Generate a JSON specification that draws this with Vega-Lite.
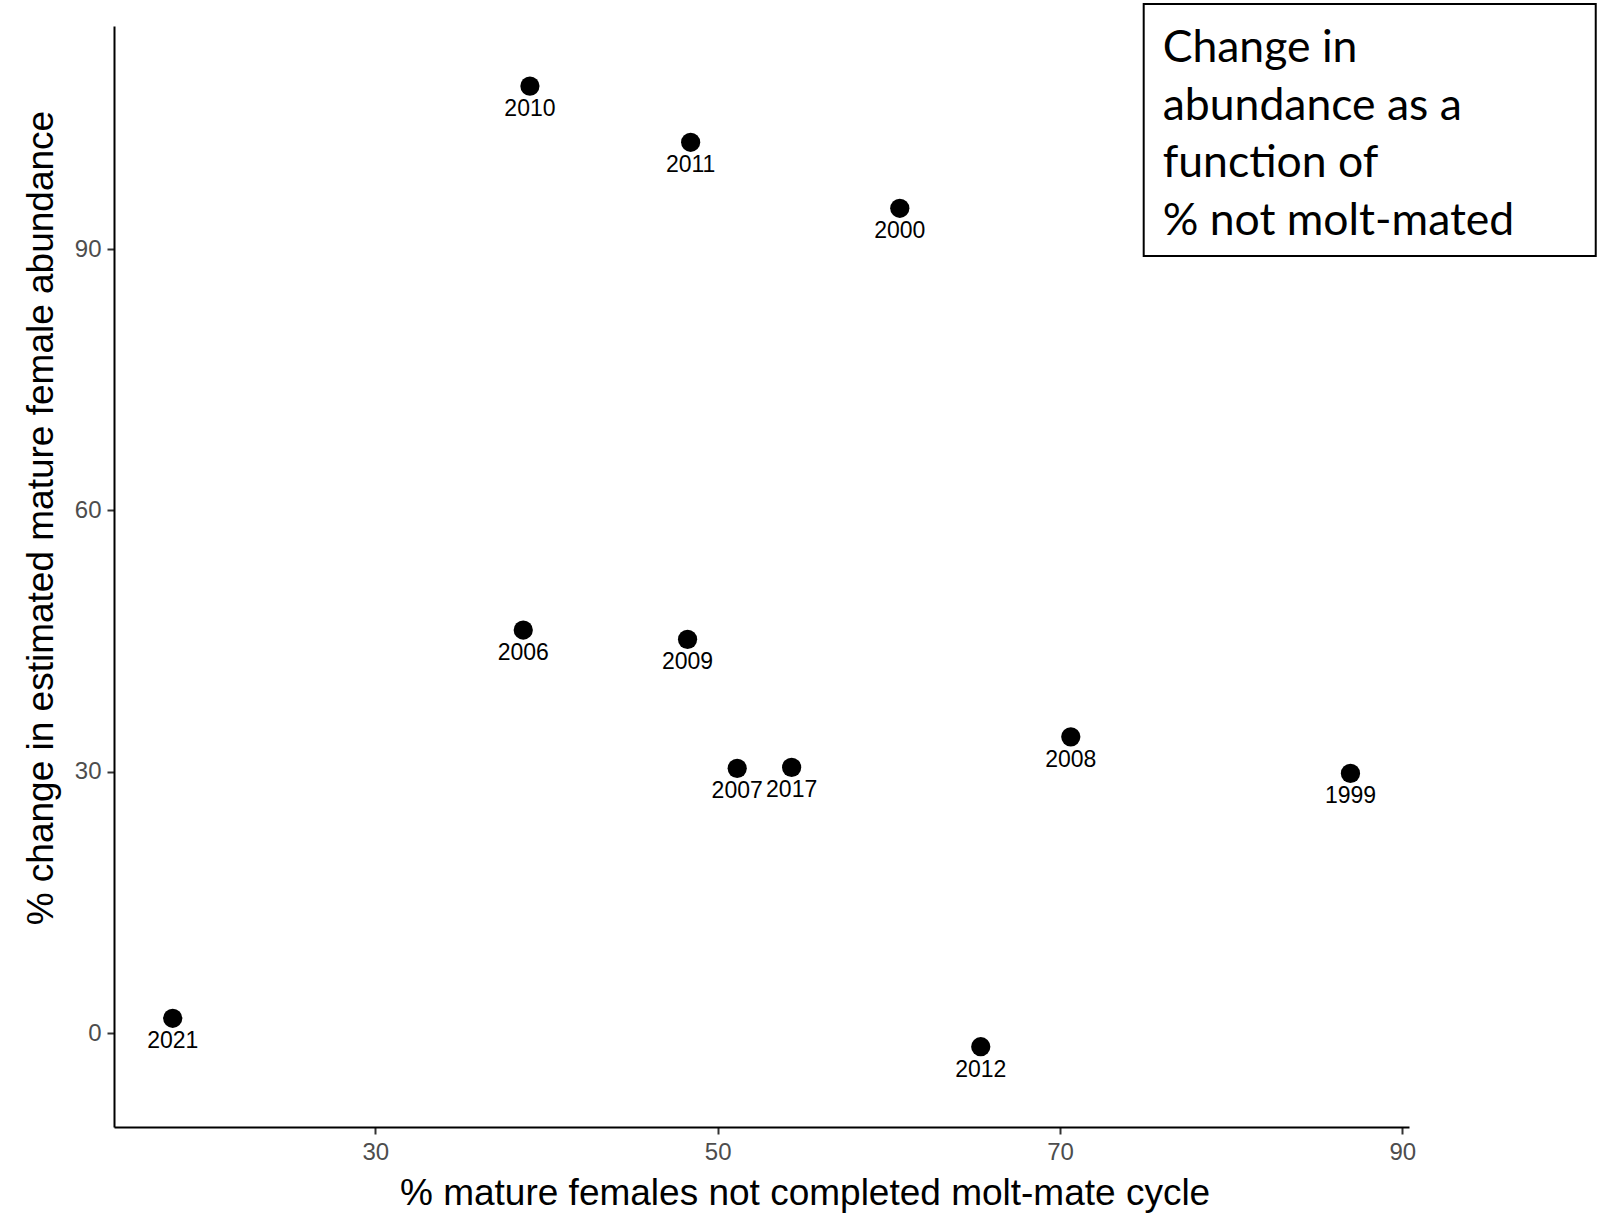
{
  "$schema": "https://vega.github.io/schema/vega-lite/v6.json",
  "width": 1295,
  "height": 1101,
  "autosize": "none",
  "padding": {"left": 114, "top": 26, "right": 198, "bottom": 88},
  "background": "white",
  "config": {
    "view": {"stroke": null},
    "axis": {
      "grid": false,
      "domainColor": "black",
      "domainWidth": 2,
      "tickColor": "#333333",
      "tickWidth": 2,
      "tickSize": 7,
      "labelFont": "Liberation Sans",
      "labelFontSize": 24,
      "labelColor": "#4D4D4D",
      "labelPadding": 6,
      "titleFont": "Liberation Sans",
      "titleFontSize": 37,
      "titleFontWeight": "normal",
      "titleColor": "black"
    }
  },
  "datasets": {
    "points": [
      {"year": "1999", "notmolt": 86.97, "change": 29.8},
      {"year": "2000", "notmolt": 60.64, "change": 94.67},
      {"year": "2006", "notmolt": 38.64, "change": 46.26},
      {"year": "2007", "notmolt": 51.14, "change": 30.38},
      {"year": "2008", "notmolt": 70.63, "change": 34.0},
      {"year": "2009", "notmolt": 48.24, "change": 45.19},
      {"year": "2010", "notmolt": 39.03, "change": 108.7},
      {"year": "2011", "notmolt": 48.42, "change": 102.25},
      {"year": "2012", "notmolt": 65.37, "change": -1.57},
      {"year": "2017", "notmolt": 54.32, "change": 30.49},
      {"year": "2021", "notmolt": 18.16, "change": 1.69}
    ],
    "box": [
      {"notmolt": 74.89, "notmolt2": 101.3, "change": 118.13, "change2": 89.2}
    ],
    "note": [
      {"notmolt": 76.0, "change": 111.47, "label": "Change in\nabundance as a\nfunction of\n% not molt-mated"}
    ]
  },
  "layer": [
    {
      "data": {"name": "points"},
      "mark": {"type": "circle", "size": 370, "color": "black", "opacity": 1},
      "encoding": {
        "x": {"field": "notmolt", "type": "quantitative",
              "scale": {"domain": [14.73, 90.39], "nice": false, "zero": false},
              "axis": {"values": [30, 50, 70, 90], "title": "% mature females not completed molt-mate cycle",
                       "titleX": 690.6, "titleY": 77, "titleAlign": "center", "titleBaseline": "alphabetic"}},
        "y": {"field": "change", "type": "quantitative",
              "scale": {"domain": [-10.79, 115.6], "nice": false, "zero": false},
              "axis": {"values": [0, 30, 60, 90], "title": "% change in estimated mature female abundance",
                       "titleAngle": -90, "titleX": -62, "titleY": 491.6, "titleAlign": "center", "titleBaseline": "alphabetic"}}
      }
    },
    {
      "data": {"name": "points"},
      "mark": {"type": "text", "dy": 30, "baseline": "alphabetic", "align": "center", "font": "Liberation Sans", "fontSize": 23, "color": "black"},
      "encoding": {
        "x": {"field": "notmolt", "type": "quantitative"},
        "y": {"field": "change", "type": "quantitative"},
        "text": {"field": "year", "type": "nominal"}
      }
    },
    {
      "data": {"name": "box"},
      "mark": {"type": "rect", "fill": "white", "stroke": "black", "strokeWidth": 2, "clip": false},
      "encoding": {
        "x": {"field": "notmolt", "type": "quantitative"},
        "x2": {"field": "notmolt2"},
        "y": {"field": "change", "type": "quantitative"},
        "y2": {"field": "change2"}
      }
    },
    {
      "data": {"name": "note"},
      "mark": {"type": "text", "align": "left", "baseline": "alphabetic", "font": "Lato", "fontSize": 44.5, "lineBreak": "\n", "lineHeight": 57.7, "color": "black", "clip": false},
      "encoding": {
        "x": {"field": "notmolt", "type": "quantitative"},
        "y": {"field": "change", "type": "quantitative"},
        "text": {"field": "label", "type": "nominal"}
      }
    }
  ]
}
